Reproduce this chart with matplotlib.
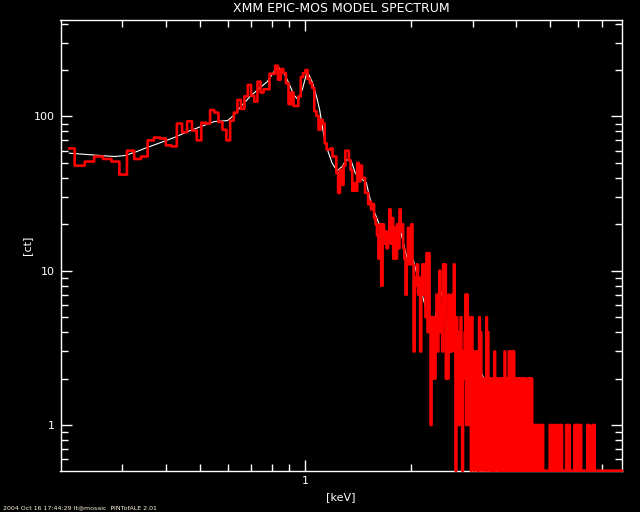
import numpy as np
import matplotlib
matplotlib.use('Agg')
import matplotlib.pyplot as plt
from matplotlib.ticker import FixedLocator, FixedFormatter, NullFormatter

############################################
# Spectrum: counts per 15 eV channel, first channel at 0.212 keV
############################################
e_first = 0.212
e_step = 0.015

# 0.21 - 1.08 keV
counts_soft = [62, 48, 51, 55, 53, 51, 42, 60, 53, 55,
               70, 73, 72, 65, 64, 90, 79, 93, 81, 70,
               91, 90, 110, 106, 92, 82, 70, 94, 106, 128,
               112, 135, 160, 136, 125, 168, 143, 150, 150, 189,
               189, 213, 173, 203, 191, 164, 120, 143, 117, 117,
               135, 180, 191, 200, 175, 164, 153, 108]
# 1.08 - 1.53 keV
counts_mid = [101, 82, 95, 90, 67, 61, 61, 62, 55, 55,
              43, 32, 45, 36, 48, 60, 60, 52, 45, 33,
              37, 33, 50, 38, 48, 40, 40, 32, 32, 27]
# 1.53 - 2.16 keV
counts_si = [28, 25, 27, 22, 20, 17, 12, 20, 8, 20,
             15, 18, 14, 16, 25, 15, 22, 12, 19, 12,
             20, 14, 25, 18, 20, 14, 12, 7, 12, 19,
             11, 17, 20, 11, 3, 9, 8, 11, 7, 9,
             3, 9]
# 2.16 - 3.21 keV
counts_s = [11, 7, 11, 5, 13, 4, 13, 5, 1, 5,
            2, 5, 2, 4, 7, 3, 7, 10, 4, 6,
            3, 11, 5, 11, 2, 4, 2, 7, 3, 6,
            3, 7, 4, 11, 3, 0, 5, 2, 4, 1,
            3, 5, 2, 0, 3, 2, 4, 7, 1, 7,
            2, 5, 1, 3, 0, 5, 1, 2, 0, 3,
            1, 3, 0, 2, 0, 5, 1, 4, 0, 2]
# 3.21 - 4.50 keV
counts_ar = [1, 2, 0, 2, 1, 5, 0, 4, 1, 2,
             0, 2, 1, 0, 2, 1, 0, 3, 0, 2,
             1, 2, 0, 1, 2, 0, 2, 1, 0, 2,
             0, 1, 2, 3, 0, 2, 1, 0, 2, 0,
             3, 1, 3, 0, 2, 0, 3, 1, 3, 0,
             2, 1, 0, 2, 0, 1, 2, 0, 2, 0,
             1, 2, 0, 1, 2, 0, 2, 0, 1, 2,
             0, 1, 0, 2, 0, 1, 2, 0, 2, 1,
             0, 2, 0, 1, 0, 1]
# 4.50 - 6.70 keV
counts_hard = [1, 0, 1, 0, 1, 1, 0, 1, 0, 1,
               1, 0, 0, 0, 1, 0, 1, 1, 0, 0,
               0, 0, 0, 0, 0, 0, 0, 0, 0, 0,
               0, 0, 1, 1, 0, 1, 0, 0, 0, 0,
               1, 1, 0, 1, 1, 0, 0, 0, 0, 0,
               1, 0, 1, 1, 0, 0, 1, 0, 1, 1,
               0, 0, 0, 0, 0, 0, 0, 0, 0, 0,
               1, 0, 1, 0, 0, 1, 1, 0, 1, 0,
               0, 0, 0, 0, 0, 0, 0, 0, 0, 0,
               0, 1, 0, 1, 1, 0, 1, 0, 0, 1,
               0, 1, 1, 0, 0, 1, 0, 1, 0, 0,
               0, 0, 0, 0, 0, 0, 0, 0, 0, 0,
               0, 0, 0, 0, 0, 1, 0, 1, 1, 0,
               1, 0, 0, 0, 0, 0, 0, 0, 0, 0,
               1, 0, 1, 0, 1, 1, 0]
# 6.70 - 8.0 keV: empty
counts_tail = [0, 0, 0, 0, 0, 0, 0, 0, 0, 0,
               0, 0, 0, 0, 0, 0, 0, 0, 0, 0,
               0, 0, 0, 0, 0, 0, 0, 0, 0, 0,
               0, 0, 0, 0, 0, 0, 0, 0, 0, 0,
               0, 0, 0, 0, 0, 0, 0, 0, 0, 0,
               0, 0, 0, 0, 0, 0, 0, 0, 0, 0,
               0, 0, 0, 0, 0, 0, 0, 0, 0, 0,
               0, 0, 0, 0, 0, 0, 0, 0, 0, 0,
               0, 0, 0, 0, 0, 0, 0]

# Model curve (white)
model_kev = [0.212, 0.245, 0.285, 0.305, 0.326, 0.355, 0.387, 0.422, 0.461,
             0.503, 0.549, 0.599, 0.626, 0.654, 0.698, 0.745, 0.778, 0.813,
             0.834, 0.868, 0.897, 0.926, 0.954, 0.979, 1.007, 1.015, 1.045,
             1.075, 1.098, 1.127, 1.152, 1.191, 1.231, 1.271, 1.308, 1.349,
             1.387, 1.433, 1.491, 1.531, 1.564, 1.634, 1.707, 1.801, 1.873,
             1.945, 2.032, 2.122, 2.291, 2.446, 2.549, 3.001, 3.100, 3.777,
             4.032, 4.250]
model_ct = [57.8, 56.4, 55.0, 55.8, 58.6, 63.2, 67.8, 73.0, 79.8,
            86.0, 92.6, 94.0, 102, 116, 136, 155, 168, 195,
            210, 191, 164, 138, 128, 149, 189, 193, 168,
            135, 110, 76, 62, 49.8, 44.4, 47.3, 52.3, 52.0,
            42.9, 39.8, 37.3, 28.8, 24.8, 19.3, 17.9, 17.9, 17.5,
            12.3, 11.7, 7.9, 4.13, 7.3, 3.95, 2.1, 2.45, 0.93,
            0.62, 0.45]

counts = np.array(counts_soft + counts_mid + counts_si + counts_s
                  + counts_ar + counts_hard + counts_tail, dtype=float)
energy = e_first + e_step * np.arange(len(counts))

x_range = [0.2, 8.0]
y_range = [0.506, 425.0]

##################################################################
# Plot, IDL style: black background, white axes
##################################################################
fig = plt.figure(figsize=(6.4, 5.12), dpi=100, facecolor='black')
ax = fig.add_axes([60.5 / 640, 41.3 / 512, 561.5 / 640, 451.2 / 512])
ax.set_facecolor('black')
ax.set_xscale('log')
ax.set_yscale('log')
ax.set_xlim(x_range)
ax.set_ylim(y_range)

# model first, then the data histogram over it
ax.plot(model_kev, model_ct, color='white', lw=0.8, zorder=2.8)
# empty channels sit on the bottom axis, as IDL draws them
ax.step(energy, np.maximum(counts, y_range[0]), where='mid',
        color='#ff0000', lw=1.9, zorder=3, clip_on=False)

for side in ax.spines.values():
    side.set_color('white')
    side.set_linewidth(1.0)

ax.xaxis.set_major_locator(FixedLocator([1]))
ax.xaxis.set_major_formatter(FixedFormatter(['1']))
ax.xaxis.set_minor_locator(FixedLocator([0.3, 0.4, 0.5, 0.6, 0.7, 0.8, 0.9,
                                         2, 3, 4, 5, 6, 7]))
ax.xaxis.set_minor_formatter(NullFormatter())
ax.yaxis.set_major_locator(FixedLocator([1, 10, 100]))
ax.yaxis.set_major_formatter(FixedFormatter(['1', '10', '100']))
ax.yaxis.set_minor_locator(FixedLocator([0.6, 0.7, 0.8, 0.9,
                                         2, 3, 4, 5, 6, 7, 8, 9,
                                         20, 30, 40, 50, 60, 70, 80, 90,
                                         200, 300, 400]))
ax.yaxis.set_minor_formatter(NullFormatter())
ax.tick_params(which='both', direction='in', top=True, right=True,
               colors='white', labelsize=8, width=1.0)
ax.tick_params(which='major', length=8, pad=4)
ax.tick_params(which='minor', length=5)

fig.text(341 / 640, 1 - 9 / 512, 'XMM EPIC-MOS MODEL SPECTRUM', color='white',
         fontsize=9, ha='center', va='center')
fig.text(341 / 640, 1 - 497 / 512, '[keV]', color='white', fontsize=8,
         ha='center', va='center')
fig.text(27 / 640, 1 - 245 / 512, '[ct]', color='white', fontsize=8,
         ha='center', va='center', rotation=90)
fig.text(3 / 640, 1 - 508 / 512, '2004 Oct 16 17:44:29 lt@mosaic  PINTofALE 2.01',
         color='#fff4dc', fontsize=4.5, ha='left', va='center')

fig.savefig('out.png', dpi=100, facecolor='black')
